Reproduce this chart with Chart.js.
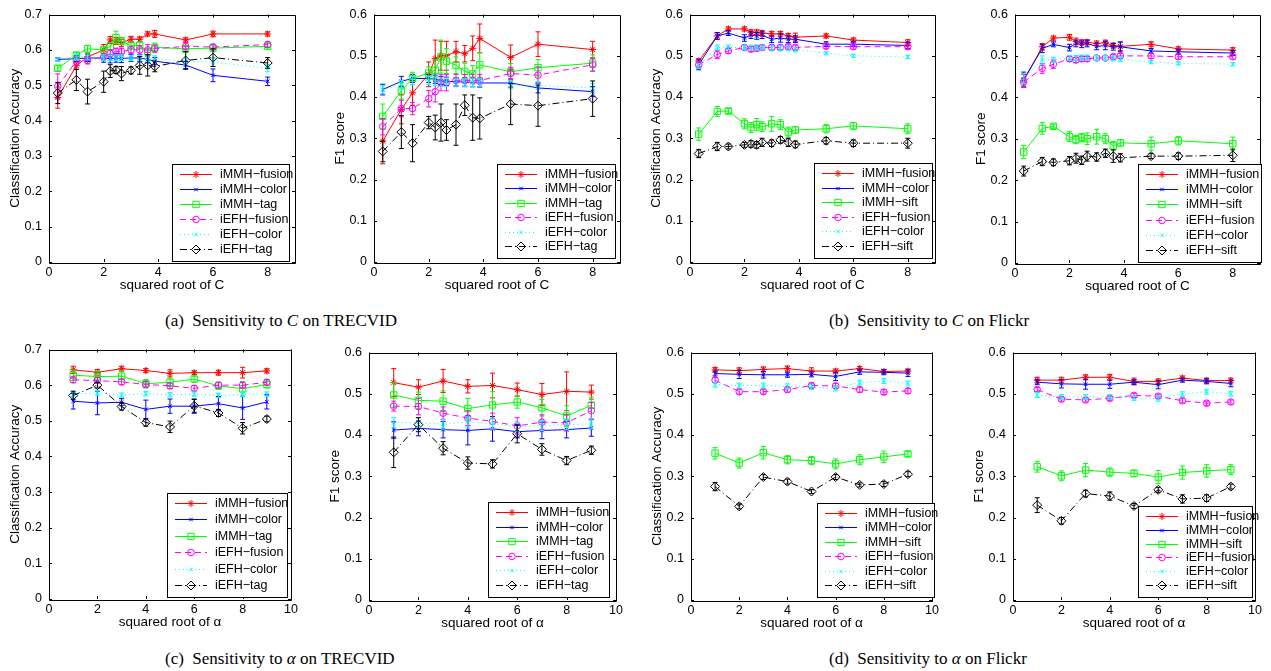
<!DOCTYPE html>
<html>
<head>
<meta charset="utf-8">
<script src="https://cdn.jsdelivr.net/npm/chart.js@4.4.0/dist/chart.umd.min.js"></script>
<style>
  body { margin: 0; background: #fff; width: 1271px; height: 671px; position: relative; overflow: hidden; }
  canvas { position: absolute; }
  .cap { position: absolute; font-family: "Liberation Serif", "Times New Roman", serif; font-size: 17px; line-height: 17px; white-space: nowrap; color: #000; }
</style>
</head>
<body>
<div class="cap" style="left:165px; top:312px">(a)&nbsp; Sensitivity to <i>C</i> on TRECVID</div>
<div class="cap" style="left:829px; top:312px">(b)&nbsp; Sensitivity to <i>C</i> on Flickr</div>
<div class="cap" style="left:165px; top:650px">(c)&nbsp; Sensitivity to <i>α</i> on TRECVID</div>
<div class="cap" style="left:829px; top:650px">(d)&nbsp; Sensitivity to <i>α</i> on Flickr</div>
<script>
// x values
const sqrtC = [0.32, 1, 1.41, 2, 2.24, 2.45, 2.65, 3, 3.32, 3.61, 3.87, 5, 6, 8];
const sqrtAlpha = [1, 2, 3, 4, 5, 6, 7, 8, 9];
const yTicksAcc = [0, 0.1, 0.2, 0.3, 0.4, 0.5, 0.6, 0.7];
const yTicksF1 = [0, 0.1, 0.2, 0.3, 0.4, 0.5, 0.6];

const labelsTrecvid = ['iMMH−fusion', 'iMMH−color', 'iMMH−tag', 'iEFH−fusion', 'iEFH−color', 'iEFH−tag'];
const labelsFlickr = ['iMMH−fusion', 'iMMH−color', 'iMMH−sift', 'iEFH−fusion', 'iEFH−color', 'iEFH−sift'];

// (a) TRECVID, accuracy vs sqrt(C)
const a1Fusion = [0.465, 0.555, 0.580, 0.600, 0.628, 0.625, 0.620, 0.630, 0.630, 0.645, 0.645, 0.628, 0.645, 0.645];
const a1FusionErr = [0.03, 0.01, 0.01, 0.015, 0.01, 0.01, 0.01, 0.008, 0.007, 0.006, 0.01, 0.006, 0.008, 0.006];
const a1Color = [0.573, 0.575, 0.577, 0.577, 0.575, 0.577, 0.576, 0.577, 0.577, 0.573, 0.568, 0.557, 0.528, 0.511];
const a1ColorErr = [0.004, 0.008, 0.01, 0.012, 0.012, 0.012, 0.012, 0.01, 0.01, 0.01, 0.01, 0.01, 0.018, 0.012];
const a1Tag = [0.548, 0.585, 0.603, 0.600, 0.610, 0.635, 0.625, 0.612, 0.613, 0.595, 0.607, 0.603, 0.605, 0.610];
const a1TagErr = [0.008, 0.008, 0.01, 0.01, 0.01, 0.018, 0.01, 0.01, 0.01, 0.01, 0.012, 0.01, 0.01, 0.008];
const a1EfhFusion = [0.497, 0.568, 0.570, 0.580, 0.590, 0.595, 0.595, 0.600, 0.600, 0.600, 0.603, 0.610, 0.608, 0.615];
const a1EfhFusionErr = [0.035, 0.01, 0.01, 0.01, 0.01, 0.01, 0.01, 0.01, 0.012, 0.015, 0.01, 0.01, 0.008, 0.008];
const a1EfhColor = [0.573, 0.580, 0.580, 0.578, 0.578, 0.578, 0.578, 0.577, 0.577, 0.576, 0.575, 0.568, 0.565, 0.548];
const a1EfhColorErr = [0.004, 0.008, 0.008, 0.008, 0.008, 0.008, 0.008, 0.008, 0.008, 0.008, 0.008, 0.008, 0.012, 0.01];
const a1EfhTag = [0.478, 0.515, 0.482, 0.510, 0.540, 0.543, 0.533, 0.542, 0.556, 0.556, 0.553, 0.570, 0.578, 0.563];
const a1EfhTagErr = [0.03, 0.03, 0.035, 0.03, 0.018, 0.01, 0.02, 0.01, 0.025, 0.03, 0.015, 0.025, 0.025, 0.015];

// (a) TRECVID, F1 vs sqrt(C)
const a2Fusion = [0.293, 0.370, 0.410, 0.455, 0.493, 0.500, 0.500, 0.510, 0.505, 0.518, 0.542, 0.496, 0.528, 0.515];
const a2FusionErr = [0.055, 0.035, 0.03, 0.03, 0.045, 0.035, 0.035, 0.025, 0.02, 0.03, 0.035, 0.03, 0.03, 0.02];
const a2Color = [0.418, 0.438, 0.445, 0.445, 0.443, 0.440, 0.438, 0.437, 0.436, 0.435, 0.434, 0.434, 0.422, 0.413];
const a2ColorErr = [0.013, 0.012, 0.01, 0.01, 0.01, 0.01, 0.01, 0.01, 0.01, 0.01, 0.01, 0.01, 0.012, 0.012];
const a2Tag = [0.353, 0.415, 0.445, 0.458, 0.465, 0.498, 0.487, 0.477, 0.462, 0.456, 0.478, 0.461, 0.471, 0.482];
const a2TagErr = [0.03, 0.02, 0.015, 0.015, 0.025, 0.04, 0.03, 0.02, 0.02, 0.02, 0.03, 0.02, 0.02, 0.02];
const a2EfhFusion = [0.328, 0.372, 0.372, 0.396, 0.413, 0.435, 0.435, 0.440, 0.440, 0.440, 0.440, 0.457, 0.453, 0.478];
const a2EfhFusionErr = [0.02, 0.02, 0.015, 0.02, 0.025, 0.02, 0.02, 0.015, 0.015, 0.015, 0.015, 0.015, 0.02, 0.015];
const a2EfhColor = [0.418, 0.430, 0.440, 0.440, 0.438, 0.436, 0.436, 0.436, 0.435, 0.435, 0.435, 0.430, 0.428, 0.422];
const a2EfhColorErr = [0.01, 0.01, 0.01, 0.01, 0.01, 0.01, 0.01, 0.01, 0.01, 0.01, 0.01, 0.01, 0.01, 0.01];
const a2EfhTag = [0.268, 0.315, 0.288, 0.338, 0.326, 0.338, 0.320, 0.333, 0.380, 0.350, 0.348, 0.383, 0.379, 0.396];
const a2EfhTagErr = [0.025, 0.04, 0.045, 0.015, 0.03, 0.045, 0.025, 0.05, 0.025, 0.055, 0.05, 0.05, 0.05, 0.043];

// (b) Flickr, accuracy vs sqrt(C)
const b1Fusion = [0.487, 0.548, 0.565, 0.565, 0.557, 0.557, 0.555, 0.553, 0.553, 0.548, 0.545, 0.548, 0.538, 0.532];
const b1FusionErr = [0.006, 0.008, 0.005, 0.005, 0.006, 0.006, 0.006, 0.006, 0.006, 0.006, 0.01, 0.005, 0.005, 0.007];
const b1Color = [0.478, 0.548, 0.555, 0.543, 0.550, 0.548, 0.550, 0.540, 0.543, 0.540, 0.540, 0.528, 0.528, 0.525];
const b1ColorErr = [0.012, 0.008, 0.006, 0.008, 0.008, 0.008, 0.008, 0.008, 0.01, 0.008, 0.008, 0.006, 0.006, 0.008];
const b1Sift = [0.310, 0.365, 0.366, 0.335, 0.326, 0.333, 0.328, 0.335, 0.333, 0.315, 0.320, 0.323, 0.330, 0.323];
const b1SiftErr = [0.015, 0.012, 0.006, 0.012, 0.012, 0.015, 0.012, 0.018, 0.012, 0.012, 0.008, 0.01, 0.008, 0.012];
const b1EfhFusion = [0.478, 0.503, 0.512, 0.520, 0.516, 0.518, 0.520, 0.520, 0.520, 0.522, 0.520, 0.523, 0.522, 0.522];
const b1EfhFusionErr = [0.008, 0.01, 0.006, 0.006, 0.006, 0.006, 0.006, 0.006, 0.006, 0.006, 0.006, 0.006, 0.006, 0.006];
const b1EfhColor = [0.475, 0.520, 0.520, 0.520, 0.520, 0.520, 0.520, 0.518, 0.518, 0.518, 0.515, 0.506, 0.500, 0.497];
const b1EfhColorErr = [0.006, 0.006, 0.006, 0.006, 0.006, 0.006, 0.006, 0.006, 0.006, 0.006, 0.006, 0.004, 0.004, 0.004];
const b1EfhSift = [0.263, 0.280, 0.280, 0.284, 0.286, 0.284, 0.290, 0.288, 0.296, 0.290, 0.285, 0.294, 0.288, 0.288];
const b1EfhSiftErr = [0.01, 0.01, 0.006, 0.006, 0.008, 0.008, 0.01, 0.008, 0.008, 0.01, 0.008, 0.008, 0.008, 0.012];

// (b) Flickr, F1 vs sqrt(C)
const b2Fusion = [0.440, 0.522, 0.543, 0.545, 0.535, 0.533, 0.533, 0.530, 0.532, 0.525, 0.523, 0.528, 0.517, 0.514];
const b2FusionErr = [0.015, 0.008, 0.005, 0.007, 0.008, 0.006, 0.006, 0.006, 0.006, 0.006, 0.01, 0.006, 0.005, 0.006];
const b2Color = [0.443, 0.518, 0.528, 0.520, 0.530, 0.528, 0.530, 0.523, 0.525, 0.522, 0.522, 0.512, 0.510, 0.507];
const b2ColorErr = [0.018, 0.01, 0.006, 0.008, 0.008, 0.008, 0.008, 0.008, 0.01, 0.008, 0.012, 0.006, 0.006, 0.006];
const b2Sift = [0.268, 0.325, 0.330, 0.305, 0.298, 0.303, 0.300, 0.305, 0.300, 0.283, 0.290, 0.288, 0.295, 0.288];
const b2SiftErr = [0.016, 0.014, 0.005, 0.012, 0.01, 0.01, 0.014, 0.018, 0.012, 0.01, 0.008, 0.016, 0.01, 0.016];
const b2EfhFusion = [0.437, 0.470, 0.480, 0.493, 0.490, 0.493, 0.493, 0.495, 0.495, 0.498, 0.500, 0.500, 0.498, 0.498];
const b2EfhFusionErr = [0.01, 0.012, 0.01, 0.006, 0.006, 0.006, 0.006, 0.006, 0.006, 0.006, 0.006, 0.006, 0.006, 0.006];
const b2EfhColor = [0.445, 0.490, 0.490, 0.495, 0.495, 0.496, 0.496, 0.495, 0.495, 0.494, 0.492, 0.485, 0.482, 0.480];
const b2EfhColorErr = [0.012, 0.01, 0.006, 0.006, 0.006, 0.006, 0.006, 0.006, 0.006, 0.006, 0.006, 0.004, 0.004, 0.004];
const b2EfhSift = [0.222, 0.245, 0.243, 0.247, 0.253, 0.248, 0.258, 0.256, 0.265, 0.258, 0.254, 0.258, 0.258, 0.260];
const b2EfhSiftErr = [0.012, 0.01, 0.008, 0.01, 0.012, 0.01, 0.012, 0.01, 0.01, 0.015, 0.01, 0.006, 0.008, 0.015];

// (c) TRECVID, accuracy vs sqrt(alpha)
const c1Fusion = [0.643, 0.636, 0.646, 0.641, 0.633, 0.635, 0.635, 0.635, 0.640];
const c1FusionErr = [0.01, 0.008, 0.007, 0.006, 0.01, 0.005, 0.007, 0.015, 0.006];
const c1Color = [0.555, 0.550, 0.552, 0.532, 0.541, 0.541, 0.548, 0.536, 0.553];
const c1ColorErr = [0.022, 0.033, 0.01, 0.026, 0.02, 0.02, 0.02, 0.032, 0.02];
const c1Tag = [0.628, 0.624, 0.625, 0.604, 0.608, 0.617, 0.598, 0.590, 0.602];
const c1TagErr = [0.015, 0.015, 0.015, 0.012, 0.012, 0.008, 0.01, 0.02, 0.01];
const c1EfhFusion = [0.615, 0.613, 0.609, 0.602, 0.598, 0.591, 0.600, 0.600, 0.608];
const c1EfhFusionErr = [0.008, 0.008, 0.008, 0.008, 0.008, 0.008, 0.008, 0.008, 0.008];
const c1EfhColor = [0.575, 0.578, 0.572, 0.576, 0.573, 0.575, 0.571, 0.574, 0.575];
const c1EfhColorErr = [0.006, 0.006, 0.006, 0.006, 0.006, 0.006, 0.006, 0.006, 0.006];
const c1EfhTag = [0.571, 0.600, 0.540, 0.495, 0.483, 0.542, 0.522, 0.479, 0.505];
const c1EfhTagErr = [0.012, 0.008, 0.01, 0.01, 0.016, 0.018, 0.01, 0.016, 0.008];

// (c) TRECVID, F1 vs sqrt(alpha)
const c2Fusion = [0.527, 0.516, 0.531, 0.518, 0.520, 0.510, 0.498, 0.506, 0.504];
const c2FusionErr = [0.034, 0.018, 0.028, 0.016, 0.03, 0.016, 0.027, 0.047, 0.017];
const c2Color = [0.412, 0.416, 0.413, 0.411, 0.415, 0.408, 0.411, 0.413, 0.417];
const c2ColorErr = [0.02, 0.018, 0.02, 0.035, 0.03, 0.015, 0.02, 0.02, 0.02];
const c2Tag = [0.497, 0.484, 0.482, 0.464, 0.473, 0.480, 0.466, 0.446, 0.472];
const c2TagErr = [0.03, 0.02, 0.025, 0.025, 0.032, 0.015, 0.02, 0.025, 0.02];
const c2EfhFusion = [0.470, 0.469, 0.453, 0.441, 0.433, 0.422, 0.431, 0.430, 0.459];
const c2EfhFusionErr = [0.012, 0.02, 0.015, 0.018, 0.02, 0.02, 0.018, 0.02, 0.02];
const c2EfhColor = [0.430, 0.430, 0.426, 0.432, 0.427, 0.420, 0.423, 0.425, 0.427];
const c2EfhColorErr = [0.012, 0.012, 0.012, 0.012, 0.012, 0.012, 0.012, 0.012, 0.012];
const c2EfhTag = [0.358, 0.425, 0.368, 0.332, 0.330, 0.403, 0.365, 0.338, 0.363];
const c2EfhTagErr = [0.037, 0.017, 0.016, 0.015, 0.01, 0.022, 0.014, 0.01, 0.01];

// (d) Flickr, accuracy vs sqrt(alpha)
const d1Fusion = [0.558, 0.556, 0.559, 0.561, 0.555, 0.555, 0.561, 0.554, 0.555];
const d1FusionErr = [0.006, 0.007, 0.006, 0.006, 0.008, 0.005, 0.005, 0.005, 0.005];
const d1Color = [0.549, 0.547, 0.546, 0.546, 0.547, 0.542, 0.553, 0.552, 0.550];
const d1ColorErr = [0.006, 0.01, 0.008, 0.006, 0.006, 0.01, 0.006, 0.006, 0.008];
const d1Sift = [0.356, 0.332, 0.357, 0.340, 0.338, 0.330, 0.340, 0.347, 0.354];
const d1SiftErr = [0.014, 0.012, 0.015, 0.01, 0.01, 0.012, 0.012, 0.014, 0.006];
const d1EfhFusion = [0.533, 0.505, 0.505, 0.510, 0.520, 0.519, 0.510, 0.504, 0.507];
const d1EfhFusionErr = [0.006, 0.006, 0.006, 0.006, 0.006, 0.006, 0.006, 0.006, 0.006];
const d1EfhColor = [0.522, 0.520, 0.520, 0.518, 0.516, 0.513, 0.527, 0.531, 0.525];
const d1EfhColorErr = [0.006, 0.006, 0.006, 0.006, 0.006, 0.006, 0.006, 0.006, 0.006];
const d1EfhSift = [0.275, 0.227, 0.298, 0.287, 0.263, 0.298, 0.279, 0.281, 0.305];
const d1EfhSiftErr = [0.01, 0.006, 0.006, 0.006, 0.005, 0.006, 0.005, 0.006, 0.006];

// (d) Flickr, F1 vs sqrt(alpha)
const d2Fusion = [0.533, 0.533, 0.540, 0.540, 0.530, 0.530, 0.538, 0.532, 0.532];
const d2FusionErr = [0.007, 0.007, 0.006, 0.007, 0.008, 0.006, 0.005, 0.006, 0.006];
const d2Color = [0.528, 0.524, 0.523, 0.523, 0.528, 0.522, 0.533, 0.530, 0.525];
const d2ColorErr = [0.006, 0.01, 0.012, 0.01, 0.006, 0.01, 0.005, 0.006, 0.008];
const d2Sift = [0.323, 0.301, 0.315, 0.310, 0.307, 0.298, 0.309, 0.313, 0.316];
const d2SiftErr = [0.013, 0.012, 0.016, 0.01, 0.008, 0.016, 0.016, 0.015, 0.012];
const d2EfhFusion = [0.510, 0.487, 0.485, 0.489, 0.496, 0.494, 0.483, 0.477, 0.480];
const d2EfhFusionErr = [0.005, 0.005, 0.005, 0.005, 0.005, 0.005, 0.005, 0.005, 0.005];
const d2EfhColor = [0.497, 0.492, 0.492, 0.492, 0.490, 0.488, 0.499, 0.505, 0.500];
const d2EfhColorErr = [0.006, 0.006, 0.006, 0.006, 0.006, 0.006, 0.006, 0.006, 0.006];
const d2EfhSift = [0.230, 0.192, 0.258, 0.252, 0.228, 0.267, 0.245, 0.247, 0.275];
const d2EfhSiftErr = [0.018, 0.008, 0.008, 0.01, 0.006, 0.006, 0.01, 0.008, 0.006];

// line / marker look, same order as the legend
const seriesStyles = [
    { color: '#ff0000', dash: [], point: 'star', r: 3.5 },
    { color: '#0000ff', dash: [], point: 'crossRot', r: 2.5 },
    { color: '#00ff00', dash: [], point: 'rect', r: 4.5 },
    { color: '#ff00ff', dash: [6, 4], point: 'circle', r: 3.3 },
    { color: '#00ffff', dash: [1, 3], point: 'crossRot', r: 2.5 },
    { color: '#000000', dash: [7, 3, 1, 3], point: 'rectRot', r: 4.5 }
];

const FONT = '"Liberation Sans", Arial, Helvetica, sans-serif';

// vertical error bars with small caps
const errorBars = {
    id: 'errorBars',
    afterDatasetsDraw(chart) {
        const { ctx } = chart;
        const xs = chart.scales.x, ys = chart.scales.y;
        chart.data.datasets.forEach(ds => {
            ctx.save();
            ctx.strokeStyle = ds.borderColor;
            ctx.lineWidth = 1;
            ds.data.forEach((p, i) => {
                const e = ds.errors[i];
                const px = xs.getPixelForValue(p.x);
                const top = ys.getPixelForValue(p.y + e);
                const bot = ys.getPixelForValue(p.y - e);
                ctx.beginPath();
                ctx.moveTo(px, top); ctx.lineTo(px, bot);
                ctx.moveTo(px - 2.5, top); ctx.lineTo(px + 2.5, top);
                ctx.moveTo(px - 2.5, bot); ctx.lineTo(px + 2.5, bot);
                ctx.stroke();
            });
            ctx.restore();
        });
    }
};

// matlab style box with inward ticks
const axisBox = {
    id: 'axisBox',
    afterDraw(chart) {
        const { ctx, chartArea: a } = chart;
        const xs = chart.scales.x, ys = chart.scales.y;
        ctx.save();
        ctx.strokeStyle = '#000';
        ctx.lineWidth = 1;
        ctx.beginPath();
        ctx.rect(Math.round(a.left) + 0.5, Math.round(a.top) + 0.5, Math.round(a.right - a.left), Math.round(a.bottom - a.top));
        xs.ticks.forEach(t => {
            const px = Math.round(xs.getPixelForValue(t.value)) + 0.5;
            ctx.moveTo(px, a.bottom); ctx.lineTo(px, a.bottom - 3);
            ctx.moveTo(px, a.top); ctx.lineTo(px, a.top + 3);
        });
        ys.ticks.forEach(t => {
            const py = Math.round(ys.getPixelForValue(t.value)) + 0.5;
            ctx.moveTo(a.left, py); ctx.lineTo(a.left + 3, py);
            ctx.moveTo(a.right, py); ctx.lineTo(a.right - 3, py);
        });
        ctx.stroke();
        ctx.restore();
    }
};

// legend box drawn inside the axes
const boxLegend = {
    id: 'boxLegend',
    afterDraw(chart, args, opts) {
        const { ctx } = chart;
        const [l, t, r, b] = opts.box;
        ctx.save();
        ctx.fillStyle = '#fff';
        ctx.fillRect(l, t, r - l, b - t);
        ctx.strokeStyle = '#000';
        ctx.lineWidth = 1;
        ctx.strokeRect(l + 0.5, t + 0.5, r - l, b - t);
        const n = chart.data.datasets.length;
        const step = (b - t - 22) / (n - 1);
        ctx.font = '12.5px ' + FONT;
        ctx.textBaseline = 'middle';
        chart.data.datasets.forEach((ds, i) => {
            const y = Math.round(t + 10 + i * step) + 0.5;
            ctx.strokeStyle = ds.borderColor;
            ctx.setLineDash(ds.borderDash);
            ctx.beginPath();
            ctx.moveTo(l + 8, y); ctx.lineTo(l + 40, y);
            ctx.stroke();
            ctx.setLineDash([]);
            ctx.fillStyle = 'rgba(0,0,0,0)';
            Chart.helpers.drawPoint(ctx, { pointStyle: ds.pointStyle, rotation: 0, radius: ds.pointRadius, borderWidth: 1 }, l + 24, y);
            ctx.fillStyle = '#000';
            ctx.fillText(ds.label, l + 48, y);
        });
        ctx.restore();
    }
};

function makeChart(plot, legendPage, xs, xMax, yMax, yTitle, xTitle, labels, values, errors) {
    const left = plot[0] - 49, top = plot[1] - 11;
    const width = plot[2] + 8 - left, height = plot[3] + 38 - top;
    const canvas = document.createElement('canvas');
    canvas.width = width; canvas.height = height;
    canvas.style.left = left + 'px'; canvas.style.top = top + 'px';
    document.body.appendChild(canvas);

    const datasets = labels.map((label, i) => {
        const s = seriesStyles[i];
        return {
            label,
            data: xs.map((x, k) => ({ x, y: values[i][k] })),
            errors: errors[i],
            borderColor: s.color,
            backgroundColor: 'rgba(0,0,0,0)',
            borderWidth: 1,
            borderDash: s.dash,
            pointStyle: s.point,
            pointRadius: s.r,
            pointBorderWidth: 1,
            pointBackgroundColor: 'rgba(0,0,0,0)',
            pointBorderColor: s.color,
            tension: 0,
            order: labels.length - i
        };
    });

    const box = [legendPage[0] - left, legendPage[1] - top, legendPage[2] - left, legendPage[3] - top];

    new Chart(canvas, {
        type: 'line',
        data: { datasets },
        options: {
            responsive: false,
            animation: false,
            devicePixelRatio: 1,
            layout: { padding: { top: 11, right: 8, left: 0, bottom: 0 } },
            plugins: {
                legend: { display: false },
                tooltip: { enabled: false },
                boxLegend: { box }
            },
            scales: {
                x: {
                    type: 'linear', min: 0, max: xMax,
                    grid: { display: false, drawTicks: false },
                    border: { display: false },
                    ticks: { stepSize: 2, padding: 3, color: '#000', font: { family: FONT, size: 12.5 } },
                    afterBuildTicks: s => { s.ticks = s.ticks.filter(t => t.value % 2 === 0); },
                    afterFit: s => { s.height = 38; },
                    title: { display: true, text: xTitle, color: '#000', font: { family: FONT, size: 13.5 }, padding: { top: 0, bottom: 7 } }
                },
                y: {
                    min: 0, max: yMax,
                    grid: { display: false, drawTicks: false },
                    border: { display: false },
                    ticks: {
                        stepSize: 0.1, padding: 7, color: '#000', font: { family: FONT, size: 12.5 },
                        callback: v => (Math.abs(v) < 1e-9 ? '0' : v.toFixed(1))
                    },
                    afterFit: s => { s.width = 49; },
                    title: { display: true, text: yTitle, color: '#000', font: { family: FONT, size: 13.5 }, padding: { top: 7, bottom: 0 } }
                }
            }
        },
        plugins: [errorBars, axisBox, boxLegend]
    });
}

makeChart([49, 11, 295, 262], [172, 164, 289, 261], sqrtC, 9, yTicksAcc[yTicksAcc.length - 1],
    'Classification Accuracy', 'squared root of C', labelsTrecvid,
    [a1Fusion, a1Color, a1Tag, a1EfhFusion, a1EfhColor, a1EfhTag],
    [a1FusionErr, a1ColorErr, a1TagErr, a1EfhFusionErr, a1EfhColorErr, a1EfhTagErr]);

makeChart([374, 11, 620, 262], [497, 164, 615, 258], sqrtC, 9, yTicksF1[yTicksF1.length - 1],
    'F1 score', 'squared root of C', labelsTrecvid,
    [a2Fusion, a2Color, a2Tag, a2EfhFusion, a2EfhColor, a2EfhTag],
    [a2FusionErr, a2ColorErr, a2TagErr, a2EfhFusionErr, a2EfhColorErr, a2EfhTagErr]);

makeChart([690, 11, 935, 262], [814, 163, 932, 258], sqrtC, 9, yTicksF1[yTicksF1.length - 1],
    'Classification Accuracy', 'squared root of C', labelsFlickr,
    [b1Fusion, b1Color, b1Sift, b1EfhFusion, b1EfhColor, b1EfhSift],
    [b1FusionErr, b1ColorErr, b1SiftErr, b1EfhFusionErr, b1EfhColorErr, b1EfhSiftErr]);

makeChart([1015, 11, 1260, 263], [1138, 164, 1261, 262], sqrtC, 9, yTicksF1[yTicksF1.length - 1],
    'F1 score', 'squared root of C', labelsFlickr,
    [b2Fusion, b2Color, b2Sift, b2EfhFusion, b2EfhColor, b2EfhSift],
    [b2FusionErr, b2ColorErr, b2SiftErr, b2EfhFusionErr, b2EfhColorErr, b2EfhSiftErr]);

makeChart([49, 346, 293, 599], [167, 493, 287, 597], sqrtAlpha, 10, yTicksAcc[yTicksAcc.length - 1],
    'Classification Accuracy', 'squared root of α', labelsTrecvid,
    [c1Fusion, c1Color, c1Tag, c1EfhFusion, c1EfhColor, c1EfhTag],
    [c1FusionErr, c1ColorErr, c1TagErr, c1EfhFusionErr, c1EfhColorErr, c1EfhTagErr]);

makeChart([369, 349, 618, 600], [488, 502, 609, 597], sqrtAlpha, 10, yTicksF1[yTicksF1.length - 1],
    'F1 score', 'squared root of α', labelsTrecvid,
    [c2Fusion, c2Color, c2Tag, c2EfhFusion, c2EfhColor, c2EfhTag],
    [c2FusionErr, c2ColorErr, c2TagErr, c2EfhFusionErr, c2EfhColorErr, c2EfhTagErr]);

makeChart([691, 349, 934, 600], [817, 503, 934, 597], sqrtAlpha, 10, yTicksF1[yTicksF1.length - 1],
    'Classification Accuracy', 'squared root of α', labelsFlickr,
    [d1Fusion, d1Color, d1Sift, d1EfhFusion, d1EfhColor, d1EfhSift],
    [d1FusionErr, d1ColorErr, d1SiftErr, d1EfhFusionErr, d1EfhColorErr, d1EfhSiftErr]);

makeChart([1013, 349, 1257, 600], [1138, 506, 1252, 597], sqrtAlpha, 10, yTicksF1[yTicksF1.length - 1],
    'F1 score', 'squared root of α', labelsFlickr,
    [d2Fusion, d2Color, d2Sift, d2EfhFusion, d2EfhColor, d2EfhSift],
    [d2FusionErr, d2ColorErr, d2SiftErr, d2EfhFusionErr, d2EfhColorErr, d2EfhSiftErr]);
</script>
</body>
</html>
